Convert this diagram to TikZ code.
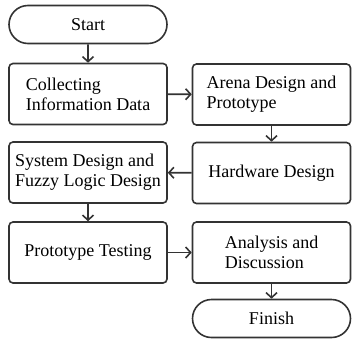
\documentclass[tikz,border=0pt]{standalone}
\usepackage{fontspec}
\setmainfont{Liberation Serif}
\usetikzlibrary{arrows.meta,positioning,shapes.misc}
\tikzset{
  kotak/.style={draw=black!80,line width=1.6pt,rounded corners=4pt,minimum width=158pt,
    minimum height=61pt,align=left,inner sep=0pt},
  ujung/.style={draw=black!80,line width=1.6pt,rounded rectangle,minimum width=158pt,
    minimum height=38pt,inner sep=0pt},
  panah/.style={draw=black!80,line width=1.6pt,-{Straight Barb[length=5pt,width=11pt]}},
}

\begin{document}
\begin{tikzpicture}[x=1pt,y=-1pt,font=\fontsize{18}{20}\selectfont]
  \useasboundingbox (0,0) rectangle (352,338);
  % kolom kiri
  \node[ujung] (start) at (88,24.5) {Start};
  \node[kotak] (collect) at (88,94) {Collecting\\Information Data};
  \node[kotak] (sysdes) at (88,172.5) {System Design and\\Fuzzy Logic Design};
  \node[kotak] (ptest) at (88,252.5) {Prototype Testing};
  % kolom kanan
  \node[kotak] (arena) at (271.5,94.5) {Arena Design and\\Prototype};
  \node[kotak] (hwdes) at (271.5,173) {Hardware Design};
  \node[kotak] (analis) at (271.5,252.5) {Analysis and\\Discussion};
  \node[ujung] (finish) at (271.5,318.5) {Finish};
  % panah
  \draw[panah] (start) -- (collect);
  \draw[panah] (collect) -- (arena);
  \draw[panah] (arena) -- (hwdes);
  \draw[panah] (hwdes) -- (sysdes);
  \draw[panah] (sysdes) -- (ptest);
  \draw[panah] (ptest) -- (analis);
  \draw[panah] (analis) -- (finish);
\end{tikzpicture}
\end{document}
